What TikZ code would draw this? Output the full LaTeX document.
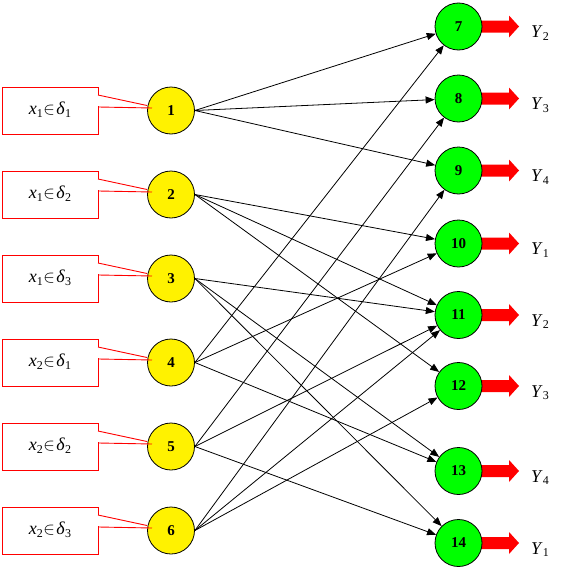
\documentclass[tikz,border=0pt]{standalone}
\usepackage{fontspec}
\setmainfont{Liberation Serif}
\usetikzlibrary{arrows.meta}
\newcommand{\sbs}[1]{\raisebox{-0.35ex}{\fontsize{12}{12}\selectfont #1}}
\tikzset{
  innode/.style={circle,draw=black,line width=0.8pt,fill=yellow,minimum size=47pt,inner sep=0pt,font=\fontsize{15}{15}\selectfont\bfseries},
  outnode/.style={circle,draw=black,line width=0.8pt,fill=green,minimum size=47pt,inner sep=0pt,font=\fontsize{15}{15}\selectfont\bfseries},
  boxtext/.style={inner sep=0pt,minimum width=96pt,minimum height=47pt,font=\fontsize{18}{18}\selectfont},
  callout/.style={draw=red,line width=0.9pt},
  link/.style={draw=black,line width=0.8pt,-{Triangle[length=9pt,width=7pt]}},
  fatarrow/.style={fill=red,draw=none},
  ylab/.style={anchor=base west,inner sep=0pt,font=\fontsize{18}{18}\selectfont}
}
\begin{document}
\begin{tikzpicture}[x=1pt,y=-1pt]
\useasboundingbox (0,0) rectangle (569,570);
% output fat arrows (under circles)
\foreach \i/\c/\y in {7/26.5/2,8/98.5/3,9/170.5/4,10/243.5/1,11/315/2,12/386/3,13/471/4,14/543/1}{
  \fill[fatarrow] (470,{\c-6}) -- (509,{\c-6}) -- (509,{\c-11}) -- (519,\c) -- (509,{\c+11}) -- (509,{\c+6}) -- (470,{\c+6}) -- cycle;
  \node[outnode] (g\i) at (458.5,\c) {\i};
  \node[ylab] (y\i) at (531,{\c+11}) {\textit{Y}\sbs{\y}};
}
% input nodes
\foreach \i/\c in {1/110.5,2/194.5,3/278.5,4/362.5,5/446.5,6/530.5}{
  \node[innode] (n\i) at (171,\c) {\i};
}
% input boxes
\foreach \i/\c/\a/\b in {1/110.5/1/1,2/194.5/1/2,3/278.5/1/3,4/362.5/2/1,5/446.5/2/2,6/530.5/2/3}{
  \node[boxtext] (b\i) at (50,{\c-1}) {\textit{x}\sbs{\a}\hspace{0.5pt}$\in$\hspace{1.5pt}\textit{δ}\sbs{\b}};
  \draw[callout] (98,{\c-15.5}) -- (98,{\c-23.5}) -- (2,{\c-23.5}) -- (2,{\c+23.5}) -- (98,{\c+23.5}) -- (98,{\c-4.5});
  \draw[callout] (98,{\c-15.5}) -- (147,{\c-5});
  \draw[callout] (98.5,{\c-3.5}) -- (152,{\c-2.5});
}
% connectors
\foreach \s/\t in {1/7,1/8,1/9,2/10,2/11,2/12,3/11,3/13,3/14,4/7,4/10,4/13,5/8,5/11,5/14,6/9,6/11,6/12}{
  \draw[link] (n\s.east) -- (g\t);
}
\end{tikzpicture}
\end{document}
